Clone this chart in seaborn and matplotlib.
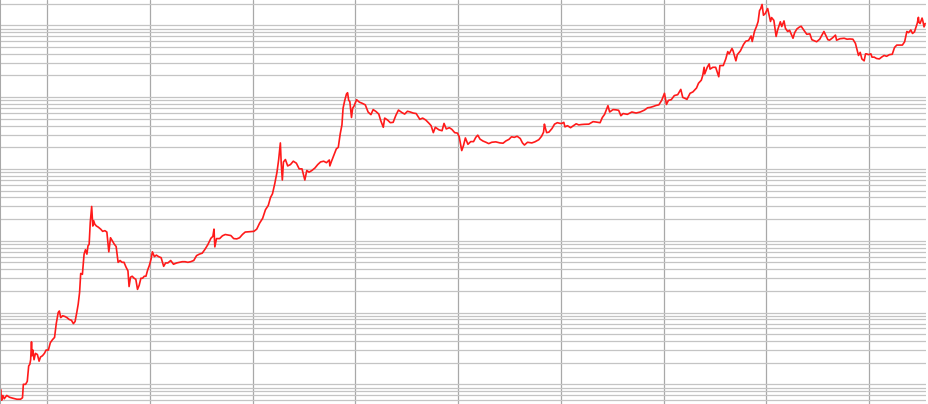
import matplotlib
matplotlib.use("Agg")
import matplotlib.pyplot as plt
import matplotlib.dates as mdates
from matplotlib.ticker import LogLocator, NullFormatter
import pandas as pd
import seaborn as sns

# ---- data (date within year, price in USD, log scale) ----
d2010 = ["07-17","07-19","07-23","07-27","08-01","08-10","08-20","09-01","09-15","09-28",
         "10-05","10-08","10-16","10-22","10-27","10-31","11-03","11-06","11-08","11-11",
         "11-15","11-20","11-27","12-03","12-08","12-15","12-22","12-28"]
p2010 = [0.07,0.085,0.06,0.07,0.063,0.07,0.066,0.064,0.062,0.062,
         0.065,0.10,0.10,0.11,0.18,0.19,0.22,0.39,0.25,0.30,
         0.22,0.27,0.26,0.21,0.24,0.25,0.27,0.30]

d2011 = ["01-05","01-12","01-20","01-27","02-02","02-09","02-13","02-18","02-25","03-05",
         "03-12","03-20","03-28","04-04","04-10","04-16","04-21","04-26","04-30","05-06",
         "05-12","05-17","05-22","05-26","05-30","06-03","06-08","06-10","06-12","06-15",
         "06-19","06-25","07-01","07-10","07-17","07-25","08-01","08-08","08-14","08-20",
         "08-27","09-03","09-10","09-17","09-24","10-01","10-08","10-15","10-19","10-24",
         "10-30","11-06","11-12","11-18","11-24","11-30","12-06","12-12","12-18","12-24","12-30"]
p2011 = [0.30,0.38,0.42,0.45,0.70,1.0,1.05,0.85,0.90,0.88,
         0.85,0.80,0.78,0.70,0.75,1.0,1.3,1.9,3.5,3.4,
         6.5,7.5,6.5,8.5,8.9,18,30,22,16,19,
         17,16,15.5,14.5,13.5,13.8,13.2,7,11,10,
         9,8.3,5,5.3,5.0,5.0,4.3,3.8,2.3,3.1,
         3.2,3.0,2.9,2.1,2.4,3.0,3.0,3.2,3.2,3.9,4.5]

d2012 = ["01-05","01-10","01-17","01-24","02-01","02-10","02-19","02-26","03-05","03-15",
         "03-25","04-05","04-15","04-25","05-05","05-15","05-25","06-05","06-15","06-25",
         "07-05","07-15","07-25","08-05","08-12","08-16","08-19","08-25","09-05","09-15",
         "09-25","10-05","10-15","10-25","11-05","11-15","11-25","12-05","12-15","12-25"]
p2012 = [5.5,7.0,6.0,6.3,6.0,5.8,4.4,4.9,4.9,5.3,
         4.7,4.9,5.0,5.1,5.1,5.0,5.1,5.3,6.2,6.5,
         6.7,7.6,8.8,10.8,11.5,14.5,8.2,10.7,10.7,11.7,
         12.2,12.0,11.8,10.7,10.6,11.0,12.2,13.2,13.3,13.4]

d2013 = ["01-05","01-15","01-25","02-05","02-15","02-25","03-05","03-12","03-20","03-28",
         "04-03","04-09","04-12","04-16","04-20","04-27","05-05","05-15","05-25","06-05",
         "06-15","06-25","07-05","07-12","07-20","07-30","08-10","08-20","08-30","09-10",
         "09-20","09-30","10-02","10-07","10-15","10-25","11-01","11-08","11-14","11-18",
         "11-24","11-30","12-04","12-08","12-12","12-18","12-22","12-27"]
p2013 = [13.5,14.5,17.5,20.5,27,31,40,45,62,90,
         135,230,120,70,125,135,110,115,128,120,
         100,100,70,95,90,95,103,115,125,128,
         122,133,110,125,150,190,200,310,410,700,
         900,1100,1150,900,870,520,700,750]

d2014 = ["01-05","01-15","01-25","02-05","02-15","02-25","03-05","03-15","03-25","04-01",
         "04-10","04-15","04-25","05-05","05-15","05-25","06-03","06-15","06-25","07-05",
         "07-15","07-25","08-05","08-18","08-28","09-08","09-20","09-27","10-05","10-12",
         "10-25","11-05","11-12","11-20","12-01","12-10","12-20","12-30"]
p2014 = [920,850,820,780,620,570,670,630,580,470,
         380,510,480,440,445,560,660,610,580,635,
         620,600,590,490,510,480,430,400,320,380,
         350,340,430,360,375,355,320,315]

d2015 = ["01-05","01-14","01-20","01-27","02-05","02-15","02-25","03-05","03-12","03-20",
         "03-30","04-10","04-20","05-01","05-15","05-30","06-10","06-20","07-01","07-10",
         "07-20","07-30","08-10","08-18","08-25","09-05","09-20","10-01","10-15","10-25",
         "11-01","11-04","11-07","11-12","11-20","12-01","12-10","12-20","12-30"]
p2015 = [280,180,210,270,220,240,240,275,295,260,
         245,235,225,235,238,230,228,245,258,280,
         275,285,265,230,215,235,230,238,255,285,
         325,420,375,320,325,365,420,440,430]

d2016 = ["01-05","01-12","01-16","01-25","02-05","02-15","02-25","03-05","03-15","03-25",
         "04-10","04-25","05-05","05-20","05-28","06-05","06-12","06-17","06-23","07-05",
         "07-15","07-25","08-02","08-10","08-25","09-10","09-25","10-10","10-25","11-05",
         "11-15","11-25","12-05","12-15","12-25"]
p2016 = [430,445,385,400,375,400,425,410,415,418,
         420,455,450,440,520,575,680,760,620,670,
         665,655,550,590,575,620,600,620,660,710,
         720,740,765,780,900]

d2017 = ["01-04","01-11","01-18","01-28","02-08","02-20","03-03","03-10","03-18","03-25",
         "04-05","04-15","04-28","05-05","05-15","05-20","05-25","05-27","06-05","06-12",
         "06-15","06-25","07-05","07-16","07-20","08-01","08-10","08-17","08-22","09-01",
         "09-05","09-15","09-20","10-01","10-12","10-20","10-30","11-08","11-12","11-20",
         "11-28","12-03","12-08","12-12","12-17","12-22","12-28"]
p2017 = [1130,790,900,920,1050,1080,1280,990,960,930,
         1130,1180,1340,1560,1720,2000,2600,2100,2600,2900,
         2450,2600,2600,1920,2750,2750,3400,4300,4000,4750,
         4400,3200,3900,4400,5400,6000,6150,7100,5950,8200,
         9800,11300,16000,17000,19500,13800,14500]

d2018 = ["01-06","01-10","01-16","01-20","01-28","02-05","02-10","02-20","02-25","03-05",
         "03-10","03-18","03-25","04-06","04-12","04-20","04-28","05-05","05-15","05-25",
         "06-05","06-12","06-24","06-29","07-10","07-18","07-25","08-08","08-14","08-25",
         "09-04","09-08","09-20","10-05","10-15","10-25","11-05","11-14","11-20","11-25",
         "12-01","12-07","12-15","12-20","12-24","12-30"]
p2018 = [17100,14500,11300,12800,11700,7000,8500,11200,9600,11500,
         9100,8200,8500,6600,7900,8900,9400,9700,8500,7500,
         7600,6300,6000,5900,6400,7300,8200,6300,6200,6700,
         7300,6200,6500,6600,6400,6450,6400,5600,4500,3800,
         4200,3400,3200,4000,4000,3900]

d2019 = ["01-08","01-12","01-20","01-28","02-07","02-15","02-24","03-05","03-15","03-25",
         "04-02","04-10","04-20","04-30","05-08","05-12","05-16","05-22","05-30","06-05",
         "06-12","06-17","06-22","06-26","06-28","07-02","07-09","07-12","07-16","07-20"]
p2019 = [4000,3600,3600,3450,3400,3600,3800,3700,3900,3950,
         4900,5300,5300,5300,5900,7000,8200,7900,8600,7700,
         8100,9300,10700,12900,11000,10600,12600,11400,9500,10600]

years = {2010: (d2010, p2010), 2011: (d2011, p2011), 2012: (d2012, p2012),
         2013: (d2013, p2013), 2014: (d2014, p2014), 2015: (d2015, p2015),
         2016: (d2016, p2016), 2017: (d2017, p2017), 2018: (d2018, p2018),
         2019: (d2019, p2019)}

rows = []
for y, (ds, ps) in years.items():
    for d, p in zip(ds, ps):
        rows.append((pd.Timestamp(f"{y}-{d}"), p))
df = pd.DataFrame(rows, columns=["date", "price"])

# ---- drawing ----
sns.set_style("white")
fig = plt.figure(figsize=(9.29, 4.04), dpi=100)
ax = fig.add_axes([0, 0, 926 / 929, 1])

sns.lineplot(data=df, x="date", y="price", color="#ff1a1a", linewidth=1.2,
             ax=ax, estimator=None, sort=True)

ax.set_yscale("log")
ax.set_ylim(0.0532, 22500)
ax.set_xlim(pd.Timestamp("2010-07-17"), pd.Timestamp("2019-07-23"))

ax.xaxis.set_major_locator(mdates.YearLocator())
ax.yaxis.set_major_locator(LogLocator(base=10))
ax.yaxis.set_minor_locator(LogLocator(base=10, subs=range(2, 10), numticks=50))

ax.grid(False)
ax.xaxis.grid(True, which="major", color="#a8a8a8", linewidth=0.9)
ax.yaxis.grid(True, which="both", color="#c4c4c4", linewidth=0.9)
ax.set_axisbelow(True)

ax.tick_params(which="both", length=0, labelbottom=False, labelleft=False)
ax.yaxis.set_minor_formatter(NullFormatter())
ax.set_xlabel("")
ax.set_ylabel("")
for s in ["top", "right", "bottom"]:
    ax.spines[s].set_visible(False)
ax.spines["left"].set_color("#a8a8a8")
ax.spines["left"].set_linewidth(1.5)

fig.savefig("out.png", dpi=100)
